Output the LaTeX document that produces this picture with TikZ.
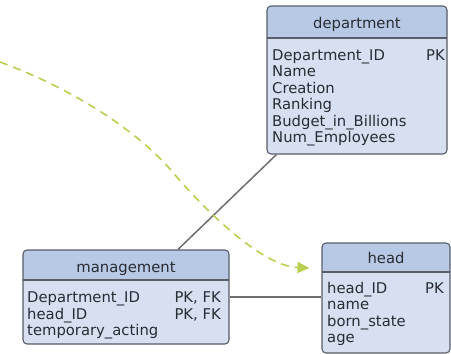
\documentclass[tikz,border=0pt]{standalone}
\usepackage{fontspec}
\setmainfont{DejaVu Sans}
\usepackage{tikz}
\usetikzlibrary{positioning}
\usetikzlibrary{calc}
\usetikzlibrary{arrows.meta}

\definecolor{headblue}{RGB}{184,201,229}
\definecolor{bodyblue}{RGB}{214,224,240}
\definecolor{boxline}{RGB}{88,93,102}
\definecolor{linkgray}{RGB}{110,110,110}
\definecolor{flowgreen}{RGB}{184,208,80}
\definecolor{txt}{RGB}{40,44,52}

\tikzset{
  tablebox/.style={rectangle, draw=boxline, line width=1.1pt, rounded corners=4pt,
    fill=bodyblue, inner sep=0pt,
    path picture={
      \fill[headblue] (path picture bounding box.north west) rectangle ([yshift=-#1]path picture bounding box.north east);
      \draw[boxline, line width=1.6pt] ([yshift=-#1]path picture bounding box.north west) -- ([yshift=-#1]path picture bounding box.north east);
    }},
  title/.style={anchor=base, text=txt, inner sep=0pt, font=\fontsize{14.8}{16}\selectfont},
  field/.style={anchor=base west, text=txt, inner sep=0pt, font=\fontsize{14.8}{16}\selectfont},
  key/.style={anchor=base east, text=txt, inner sep=0pt, font=\fontsize{14.8}{16}\selectfont},
  link/.style={draw=linkgray, line width=1.5pt},
  flow/.style={draw=flowgreen, line width=1.6pt, dash pattern=on 8pt off 6pt,
    -{Triangle[length=12pt,width=11pt]}}
}

\begin{document}
\begin{tikzpicture}[x=1pt,y=-1pt]
  \useasboundingbox (0,0) rectangle (451,354);

  % tables
  \node[tablebox=32pt, minimum width=180pt, minimum height=148pt] (department) at (357,80) {};
  \node[tablebox=30pt, minimum width=206pt, minimum height=94pt] (management) at (126,297) {};
  \node[tablebox=29pt, minimum width=128pt, minimum height=110pt] (head) at (386,298) {};

  % department
  \node[title] (depttitle) at (357,28) {department};
  \foreach \f [count=\i] in {Department\_ID, Name, Creation, Ranking, Budget\_in\_Billions, Num\_Employees}
    \node[field] (dept-\i) at (272,{60+16.5*(\i-1)}) {\f};
  \node[key] (deptkey) at (445,60) {PK};

  % management
  \node[title] (mgmttitle) at (126,272) {management};
  \foreach \f [count=\i] in {Department\_ID, head\_ID, temporary\_acting}
    \node[field] (mgmt-\i) at (27,{302.5+16.5*(\i-1)}) {\f};
  \node[key] (mgmtkey1) at (221,302.5) {PK, FK};
  \node[key] (mgmtkey2) at (221,319) {PK, FK};

  % head
  \node[title] (headtitle) at (386,263) {head};
  \foreach \f [count=\i] in {head\_ID, name, born\_state, age}
    \node[field] (head-\i) at (327,{293+16.5*(\i-1)}) {\f};
  \node[key] (headkey) at (444,293) {PK};

  % relations
  \draw[link] ([xshift=10pt]department.south west) -- ([xshift=52pt]management.north);
  \draw[link] (management.east) -- (management.east -| head.west);

  % dashed arrow
  \coordinate (flowstart) at (0,62);
  \coordinate (flowend) at ([xshift=-12pt,yshift=30pt]head.west);
  \draw[flow] (flowstart) .. controls (60,84) and (128,122) .. (170,169)
    .. controls (200,205) and (260,266) .. (flowend);
\end{tikzpicture}
\end{document}
